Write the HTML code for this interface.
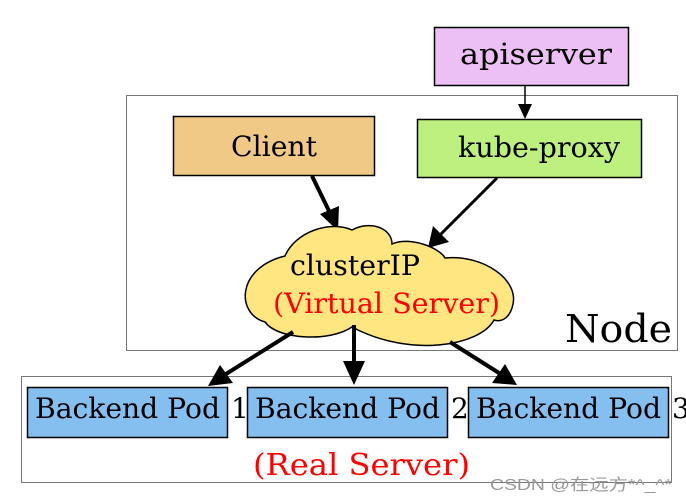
<!DOCTYPE html>
<html><head><meta charset="utf-8"><style>
html,body{margin:0;padding:0;background:#fff;width:686px;height:502px;overflow:hidden}
svg text{font-family:"DejaVu Serif","Liberation Serif",serif}
</style></head><body>
<svg width="686" height="502" viewBox="0 0 686 502" xmlns="http://www.w3.org/2000/svg">
<rect x="126.5" y="95.5" width="551" height="255" fill="#fff" stroke="#777" stroke-width="1"/>
<rect x="21.5" y="376.5" width="650" height="106" fill="#fff" stroke="#777" stroke-width="1"/>
<rect x="434.5" y="27.5" width="194" height="58" fill="#ecc0f4" stroke="#000" stroke-width="1.5"/>
<text x="460" y="64" font-size="29" textLength="152" lengthAdjust="spacingAndGlyphs">apiserver</text>
<line x1="525" y1="86" x2="525" y2="109" stroke="#000" stroke-width="1.5"/>
<path d="M518,104 L532,104 L525,119 z" fill="#000"/>
<rect x="173.5" y="116.5" width="201" height="59" fill="#f1c987" stroke="#000" stroke-width="1.5"/>
<text x="231" y="156" font-size="28" textLength="86" lengthAdjust="spacingAndGlyphs">Client</text>
<rect x="417.5" y="119.5" width="224" height="58" fill="#bdf07e" stroke="#000" stroke-width="1.5"/>
<text x="458" y="157" font-size="28" textLength="162" lengthAdjust="spacingAndGlyphs">kube-proxy</text>
<line x1="312" y1="176" x2="330" y2="213" stroke="#000" stroke-width="4"/>
<path d="M320,214 L339,206 L338,231 z" fill="#000"/>
<line x1="497" y1="178" x2="441" y2="234" stroke="#000" stroke-width="3"/>
<path d="M433,226 L449,242 L428,248 z" fill="#000"/>
<path d="M265,322 C236,314 236,268 285,256 C295,232 330,220 352,230 C370,220 392,228 392,244 C410,236 440,248 445,258 C482,254 522,280 512,308 C508,320 500,322 494,320 C480,346 410,358 352,327 C330,342 278,340 265,322 z" fill="#ffe680" stroke="#000" stroke-width="1.5"/>
<text x="290" y="275" font-size="28" textLength="130" lengthAdjust="spacingAndGlyphs">clusterIP</text>
<text x="273" y="313" font-size="28" fill="#f00" textLength="227" lengthAdjust="spacingAndGlyphs">(Virtual Server)</text>
<text x="565" y="342" font-size="38" textLength="107" lengthAdjust="spacingAndGlyphs">Node</text>
<line x1="293" y1="332" x2="226" y2="374" stroke="#000" stroke-width="4"/>
<path d="M220,365 L233,383 L208,386 z" fill="#000"/>
<line x1="354" y1="325" x2="354" y2="362" stroke="#000" stroke-width="4"/>
<path d="M343,361 L365,361 L354,385 z" fill="#000"/>
<line x1="450" y1="342" x2="499" y2="373" stroke="#000" stroke-width="4"/>
<path d="M492,383 L505,364 L517,385 z" fill="#000"/>
<rect x="27.5" y="387.5" width="200" height="50" fill="#85bff0" stroke="#000" stroke-width="1.5"/>
<text x="35" y="418" font-size="28" textLength="185" lengthAdjust="spacingAndGlyphs">Backend Pod</text>
<text x="231" y="418" font-size="28">1</text>
<rect x="247.5" y="387.5" width="200" height="50" fill="#85bff0" stroke="#000" stroke-width="1.5"/>
<text x="255" y="418" font-size="28" textLength="185" lengthAdjust="spacingAndGlyphs">Backend Pod</text>
<text x="451" y="418" font-size="28">2</text>
<rect x="468.5" y="387.5" width="200" height="50" fill="#85bff0" stroke="#000" stroke-width="1.5"/>
<text x="476" y="418" font-size="28" textLength="185" lengthAdjust="spacingAndGlyphs">Backend Pod</text>
<text x="672" y="418" font-size="28">3</text>
<text x="253" y="475" font-size="30" fill="#f00" textLength="217" lengthAdjust="spacingAndGlyphs">(Real Server)</text>
<text x="490" y="490" font-size="16" fill="#999" style="font-family:'Liberation Sans','Noto Sans CJK SC',sans-serif" textLength="182" lengthAdjust="spacingAndGlyphs">CSDN @在远方*^_^*</text>
</svg>
</body></html>
